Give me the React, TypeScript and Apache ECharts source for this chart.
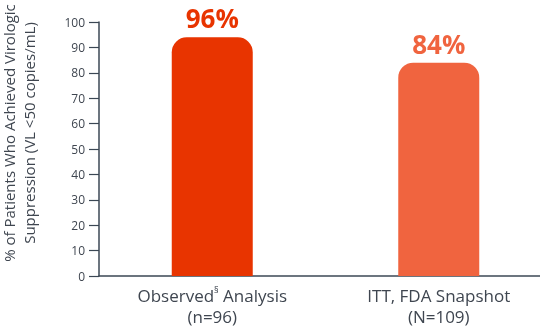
import React, { useEffect, useRef } from "react";
import * as echarts from "echarts";

const categories = ["Observed{sup|§} Analysis\n(n=96)", "ITT, FDA Snapshot\n(N=109)"];
const barValues = [94, 84];
const barLabels = ["96%", "84%"];
const barColors = ["#E83400", "#F0643F"];
const yTicks = [0, 10, 20, 30, 40, 50, 60, 70, 80, 90, 100];
const yTitle = "% of Patients Who Achieved Virologic\nSuppression (VL <50 copies/mL)";

export default function App() {
  const ref = useRef<HTMLDivElement>(null);
  useEffect(() => {
    if (!ref.current) return;
    const chart = echarts.init(ref.current, null, { renderer: "svg" });
    const font = "'Open Sans', sans-serif";
    chart.setOption({
      animation: false,
      grid: { left: 99, right: 0, top: 22, bottom: 59 },
      xAxis: {
        type: "category",
        data: categories,
        axisLine: { show: true, lineStyle: { color: "#3b4754", width: 1.5 } },
        axisTick: { show: false },
        axisLabel: {
          interval: 0,
          margin: 9,
          color: "#3f4650",
          fontFamily: font,
          fontSize: 17,
          lineHeight: 21,
          rich: {
            sup: { fontSize: 9, verticalAlign: "top", color: "#3f4650", fontFamily: font, lineHeight: 14 },
          },
        },
      },
      yAxis: {
        type: "value",
        min: yTicks[0],
        max: yTicks[yTicks.length - 1],
        interval: 10,
        splitLine: { show: false },
        axisLine: { show: true, lineStyle: { color: "#3b4754", width: 1.5 } },
        axisTick: { show: true, length: 10, lineStyle: { color: "#3b4754", width: 1.2 } },
        axisLabel: { color: "#3f4650", fontFamily: font, fontSize: 12, margin: 14 },
      },
      graphic: [
        {
          type: "text",
          x: 19,
          y: 133,
          rotation: Math.PI / 2,
          style: {
            text: yTitle,
            fontFamily: font,
            fontSize: 15,
            lineHeight: 20,
            fill: "#3f4650",
            align: "center",
            verticalAlign: "middle",
          },
        },
      ],
      series: [
        {
          type: "bar",
          barWidth: 81,
          data: barValues.map((v, i) => ({
            value: v,
            itemStyle: { color: barColors[i], borderRadius: [15, 15, 0, 0] },
            label: {
              show: true,
              position: "top",
              distance: 6,
              formatter: barLabels[i],
              color: barColors[i],
              fontFamily: font,
              fontWeight: "bold",
              fontSize: 26,
            },
          })),
        },
      ],
    });
    return () => chart.dispose();
  }, []);
  return <div ref={ref} style={{ position: "fixed", left: 0, top: 0, width: 552, height: 335 }} />;
}
